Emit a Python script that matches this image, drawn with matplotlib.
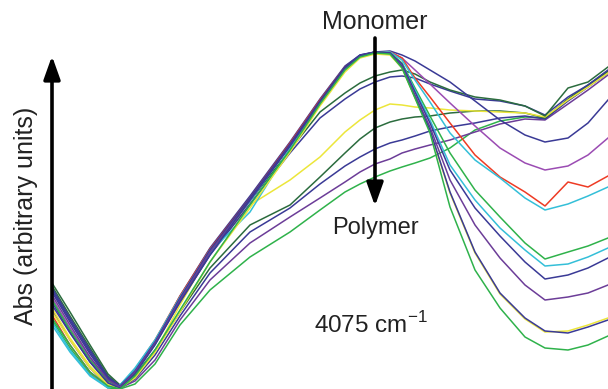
import matplotlib.pyplot as plt

plt.rcParams['font.family'] = ['Liberation Sans', 'DejaVu Sans']
plt.rcParams['mathtext.fontset'] = 'custom'
plt.rcParams['mathtext.rm'] = 'Liberation Sans'

# wavenumber position (arbitrary, left to right) and absorbance
# (absorbance given as depth from top, axis inverted below)
x = [52, 70, 90, 108, 120, 135, 155, 180, 210, 250, 290, 320, 345, 360, 375, 390,
     402, 415, 430, 450, 475, 500, 525, 545, 568, 588, 608]

# monomer-like spectra (tall peak, deep right minimum)
green_deep = [318, 345, 372, 386, 389, 376, 350, 310, 262, 205, 150, 104, 70, 57, 53, 54,
              68, 98, 133, 207, 270, 308, 337, 348, 350, 345, 336]
navy_deep = [305, 333, 362, 383, 388, 374, 345, 302, 255, 200, 146, 102, 68, 56, 52, 53,
             67, 97, 130, 192, 252, 293, 318, 331, 333, 327, 320]
yellow_deep = [312, 340, 368, 385, 388, 378, 352, 312, 262, 208, 152, 106, 72, 58, 54, 55,
               68, 98, 131, 193, 253, 294, 319, 332, 331, 325, 318]
purple_deep = [295, 325, 357, 380, 387, 372, 343, 300, 252, 200, 146, 103, 69, 56, 52, 53,
               66, 95, 127, 180, 225, 258, 285, 300, 297, 293, 285]
navy_mid = [290, 320, 352, 378, 386, 371, 342, 298, 250, 198, 144, 101, 67, 55, 52, 53,
            64, 92, 123, 170, 208, 236, 262, 279, 275, 268, 258]
cyan_mid = [325, 352, 376, 388, 385, 368, 340, 297, 252, 212, 148, 104, 70, 57, 53, 54,
            64, 90, 120, 165, 200, 228, 250, 266, 264, 257, 248]
green_mid = [300, 330, 360, 381, 387, 373, 344, 300, 251, 199, 146, 102, 68, 56, 52, 53,
             63, 88, 116, 153, 190, 217, 243, 259, 252, 246, 238]
cyan_up = [322, 350, 375, 387, 386, 370, 341, 298, 250, 201, 146, 102, 68, 56, 52, 52,
           60, 80, 102, 133, 160, 178, 198, 210, 204, 196, 187]
red = [315, 345, 372, 387, 386, 369, 340, 296, 249, 198, 143, 100, 67, 56, 52, 52,
       58, 78, 97, 123, 155, 177, 192, 206, 182, 187, 176]
purple_up = [298, 328, 358, 381, 387, 372, 343, 299, 251, 199, 145, 102, 68, 56, 52, 52,
             58, 70, 84, 103, 126, 148, 163, 170, 166, 155, 138]
navy_shallow = [288, 318, 350, 377, 386, 371, 342, 296, 248, 196, 142, 99, 66, 55, 52, 51,
                55, 61, 70, 82, 101, 120, 135, 142, 138, 123, 100]

# polymer-like spectra (lower peak, shallow right minimum)
dkgreen_top = [283, 312, 345, 374, 385, 370, 342, 300, 252, 201, 150, 112, 93, 83, 76, 72,
               70, 74, 82, 90, 97, 100, 106, 116, 88, 82, 67]
navy_b = [292, 322, 354, 379, 387, 372, 344, 302, 255, 204, 153, 118, 99, 89, 82, 77,
          76, 78, 84, 91, 99, 101, 106, 115, 97, 85, 70]
yellow_b = [308, 338, 366, 384, 388, 377, 352, 305, 252, 205, 180, 157, 132, 120, 110, 104,
            105, 107, 108, 110, 111, 112, 113, 117, 100, 87, 73]
dkgreen_b = [286, 316, 348, 376, 386, 375, 350, 312, 268, 225, 205, 177, 153, 139, 128, 122,
             119, 117, 116, 113, 111, 111, 113, 118, 99, 85, 71]
navy_b2 = [302, 332, 362, 383, 388, 379, 355, 316, 273, 232, 208, 184, 166, 157, 149, 143,
           140, 136, 131, 127, 123, 118, 116, 119, 101, 87, 73]
purple_b = [310, 340, 368, 386, 388, 381, 360, 320, 280, 243, 217, 198, 182, 172, 164, 159,
            153, 149, 145, 140, 132, 124, 119, 120, 104, 90, 75]
green_b = [320, 348, 374, 388, 389, 384, 364, 325, 290, 257, 232, 210, 192, 184, 177, 171,
           167, 163, 158, 148, 130, 121, 117, 118, 100, 86, 72]

navy = '#3a3a96'
purple_dark = '#6c3d98'
purple_light = '#9b4cb3'
dkgreen = '#2b6c3e'
green = '#2fb24b'
cyan = '#34bfd8'
yellow = '#ece63a'
redc = '#ee3b24'

spectra = [
    (green_b, green), (purple_b, purple_dark), (navy_b2, navy), (dkgreen_b, dkgreen),
    (yellow_b, yellow), (navy_b, navy), (dkgreen_top, dkgreen),
    (navy_shallow, navy), (purple_up, purple_light), (red, redc), (cyan_up, cyan),
    (green_mid, green), (cyan_mid, cyan), (navy_mid, navy), (purple_deep, purple_dark),
    (yellow_deep, yellow), (navy_deep, navy), (green_deep, green),
]

fig = plt.figure(figsize=(6.08, 3.89), dpi=100)
ax = fig.add_axes([0, 0, 1, 1])

for y, c in spectra:
    ax.plot(x, y, color=c, lw=1.1)

ax.set_xlim(0, 608)
ax.set_ylim(389, 0)
ax.axis('off')

txt = '#222222'

# y axis arrow
ax.annotate('', xy=(52, 56), xytext=(52, 395),
            arrowprops=dict(arrowstyle='-|>,head_length=1.4,head_width=0.5',
                            lw=2.6, color='black', shrinkA=0, shrinkB=0))
ax.text(26, 216, 'Abs (arbitrary units)', rotation=90, ha='center', va='center',
        fontsize=18, color=txt)

# monomer -> polymer arrow
ax.annotate('', xy=(375, 206), xytext=(375, 38),
            arrowprops=dict(arrowstyle='-|>,head_length=1.4,head_width=0.5',
                            lw=2.6, color='black', shrinkA=0, shrinkB=0))
ax.text(375, 22, 'Monomer', ha='center', va='center', fontsize=18, color=txt)
ax.text(375, 228, 'Polymer', ha='center', va='center', fontsize=17, color=txt)
ax.text(314, 325, r'4075 cm$^{\mathrm{-1}}$', ha='left', va='center', fontsize=17.5,
        color=txt)

plt.savefig('out.png', dpi=100)
